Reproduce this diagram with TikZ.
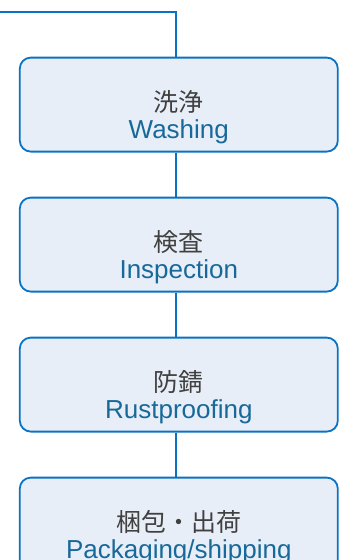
\documentclass[tikz,border=0pt]{standalone}
\usepackage{fontspec}
\setmainfont{Liberation Sans}
\newfontfamily\cjk{Noto Sans CJK JP}
\usepackage{tikz}
\usetikzlibrary{positioning}
\definecolor{flowline}{HTML}{0A72C2}
\definecolor{flowfill}{HTML}{E8EEF7}
\definecolor{jptext}{HTML}{404040}
\definecolor{entext}{HTML}{17699A}
\tikzstyle{process}=[rectangle,rounded corners=11pt,draw=flowline,fill=flowfill,line width=1.8pt,minimum width=318pt,minimum height=94pt,align=center,inner sep=0pt,font=\fontsize{25}{27}\selectfont]
\tikzstyle{link}=[draw=flowline,line width=1.8pt]
\newcommand{\steplabel}[2]{\rule{0pt}{47.5pt}{\cjk\color{jptext}#1}\\{\fontsize{26}{27}\selectfont\color{entext}#2}\rule[-6pt]{0pt}{6pt}}

\begin{document}
\begin{tikzpicture}[x=1pt,y=-1pt]
		\useasboundingbox (0,0) rectangle (356,560);
		\clip (0,0) rectangle (356,560);
		\begin{scope}[node distance=44.2pt]
			\node[process]	(washing)	at (178.8,104.6)	{\steplabel{洗浄}{Washing}};
			\node[process]	(inspection)	[below=of washing]	{\steplabel{検査}{Inspection}};
			\node[process]	(rustproof)	[below=of inspection]	{\steplabel{防錆}{Rustproofing}};
			\node[process]	(packing)	[below=of rustproof]	{\steplabel{梱包・出荷}{Packaging/shipping}};

			% line coming in from the previous step
			\coordinate (incoming) at (0,11.7);
			\coordinate (bend) at (176,11.7);
			\draw[link] (incoming) -- (bend) -- (bend |- washing.north);

			\draw[link] (washing.south -| bend) -- (inspection.north -| bend);
			\draw[link] (inspection.south -| bend) -- (rustproof.north -| bend);
			\draw[link] (rustproof.south -| bend) -- (packing.north -| bend);
		\end{scope}
	\end{tikzpicture}
\end{document}
